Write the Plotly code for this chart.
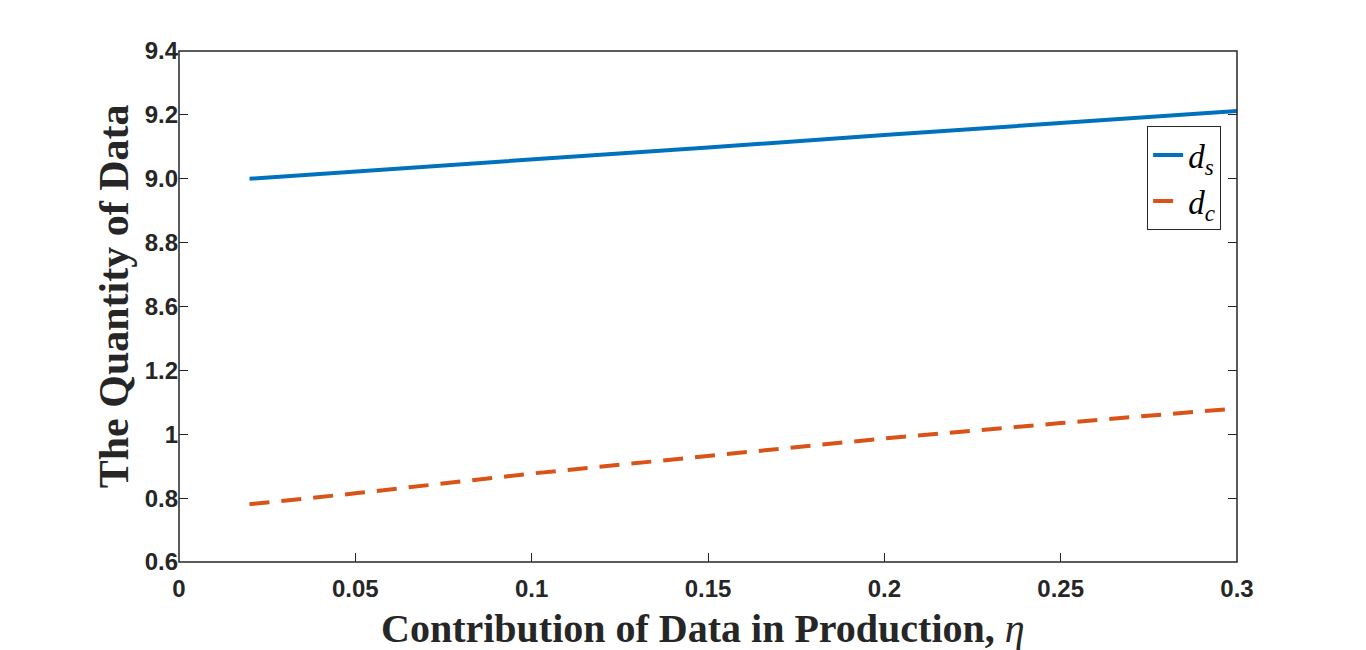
import plotly.graph_objects as go

eta = [0.02, 0.05, 0.1, 0.15, 0.2, 0.25, 0.3]
d_s = [9.000, 9.022, 9.059, 9.098, 9.137, 9.175, 9.212]
d_c = [0.781, 0.815, 0.877, 0.933, 0.987, 1.035, 1.081]

x_ticks = [0, 0.05, 0.1, 0.15, 0.2, 0.25, 0.3]
x_ticktext = ["0", "0.05", "0.1", "0.15", "0.2", "0.25", "0.3"]
low_ticks = [0.6, 0.8, 1.0, 1.2]
low_ticktext = ["0.6", "0.8", "1", "1.2"]
high_ticks = [8.6, 8.8, 9.0, 9.2, 9.4]
high_ticktext = ["8.6", "8.8", "9.0", "9.2", "9.4"]

BLUE = "#0072BD"
ORANGE = "#D95319"
AX = "#262626"
split = 3.5 / 8

fig = go.Figure()
fig.add_trace(go.Scatter(x=eta, y=d_s, mode="lines", xaxis="x", yaxis="y2",
                         line=dict(color=BLUE, width=4),
                         name="<i>d</i><sub><i>s</i></sub>"))
fig.add_trace(go.Scatter(x=eta, y=d_c, mode="lines", xaxis="x", yaxis="y",
                         line=dict(color=ORANGE, width=4, dash="20px,12px"),
                         name="<i>d</i><sub><i>c</i></sub>"))

tickfont = dict(family="Liberation Sans", size=24, color=AX, weight="bold")
fig.update_layout(
    width=1366, height=650,
    margin=dict(l=171, r=137, t=43, b=96),
    paper_bgcolor="white", plot_bgcolor="white",
    showlegend=True,
    legend=dict(x=0.985, xanchor="right", y=0.853, yanchor="top",
                bgcolor="white", bordercolor=AX, borderwidth=1,
                font=dict(family="Liberation Serif", size=33, color="black"),
                itemwidth=30),
    xaxis=dict(range=[0, 0.3], tickvals=x_ticks, ticktext=x_ticktext,
               ticks="inside", ticklen=9, tickcolor=AX, tickwidth=1,
               showgrid=False, zeroline=False, showline=False,
               anchor="y", tickfont=tickfont, ticklabelstandoff=10),
    xaxis2=dict(range=[0, 0.3], tickvals=x_ticks, ticks="inside", ticklen=9,
                tickcolor=AX, showticklabels=False, showgrid=False, zeroline=False,
                overlaying="x", anchor="y2", side="top", matches="x"),
    yaxis=dict(domain=[0, split], range=[0.6, 1.3], tickvals=low_ticks,
               ticktext=low_ticktext, ticks="inside", ticklen=9, tickcolor=AX,
               mirror="ticks", showgrid=False, zeroline=False, showline=False,
               tickfont=tickfont, anchor="x"),
    yaxis2=dict(domain=[split, 1], range=[8.5, 9.4], tickvals=high_ticks,
                ticktext=high_ticktext, ticks="inside", ticklen=9, tickcolor=AX,
                mirror="ticks", showgrid=False, zeroline=False, showline=False,
                tickfont=tickfont, anchor="x"),
    shapes=[dict(type="rect", xref="paper", yref="paper", x0=0, x1=1, y0=0, y1=1,
                 line=dict(color=AX, width=1.5), fillcolor="rgba(0,0,0,0)")],
    annotations=[
        dict(text="<b>Contribution of Data in Production, </b><i>η</i>",
             xref="paper", yref="paper", x=0.495, y=0, yshift=-66,
             xanchor="center", yanchor="middle", showarrow=False,
             font=dict(family="Liberation Serif", size=40, color=AX)),
        dict(text="<b>The Quantity of Data</b>", textangle=-90,
             xref="paper", yref="paper", x=0, xshift=-65, y=0.52,
             xanchor="center", yanchor="middle", showarrow=False,
             font=dict(family="Liberation Serif", size=42, color=AX)),
    ],
)

fig.write_html("out.html")
